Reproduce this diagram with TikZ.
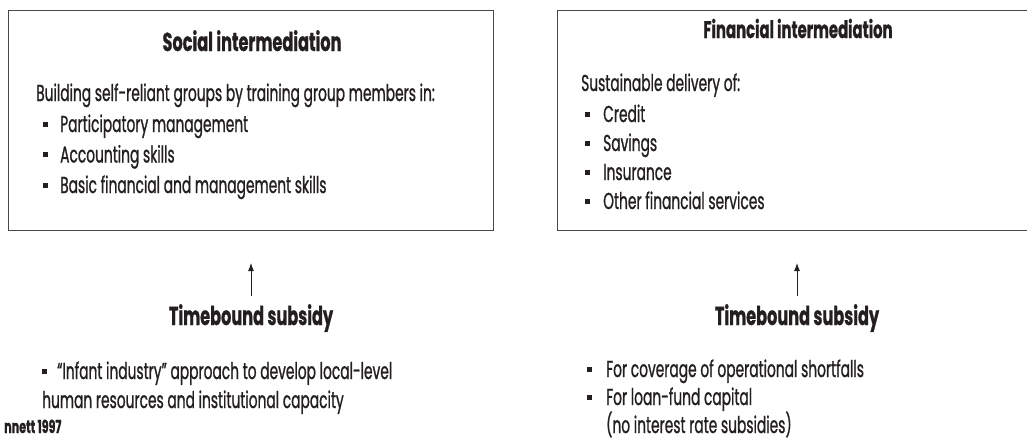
\documentclass[tikz,border=0pt]{standalone}
\usepackage{fontspec}
\setmainfont[FakeStretch=0.6, FakeBold=0.9]{Poppins}
\newfontfamily\headfont[FakeStretch=0.62, FakeBold=0.8]{Poppins}[UprightFont=*-Bold]
\usetikzlibrary{positioning}
\usetikzlibrary{arrows.meta}

\definecolor{ink}{HTML}{231F20}
\newcommand{\sqbul}{\raisebox{0.22em}{\rule{5pt}{5pt}}}

\begin{document}
\begin{tikzpicture}[x=1pt,y=-1pt,
    frame/.style={draw=black!72, line width=0.9pt},
    head/.style={font=\fontsize{26}{30}\selectfont\headfont, text=ink, inner sep=0pt, anchor=base},
    body/.style={font=\fontsize{23}{30}\selectfont, text=ink, inner sep=0pt, anchor=base west},
    up/.style={-{Latex[length=8pt,width=6pt]}, line width=0.9pt, draw=ink}]
    \clip (0,0) rectangle (1027,440);

    % social intermediation
    \draw[frame] (8,10) rectangle (493,230);
    \node[head] (socialhead) at (252,51) {Social intermediation};
    \node[body] (socialintro) at (36,101) {Building self-reliant groups by training group members in:};
    \foreach \t [count=\i from 0] in {Participatory management, Accounting skills, Basic financial and management skills}
        \node[body] (socialitem\i) at (43,132+30.5*\i) {\makebox[17pt][l]{\sqbul}\t};

    % financial intermediation
    \draw[frame] (557,10) rectangle (1040,230);
    \node[head, font=\fontsize{24}{28}\selectfont\headfont] (finhead) at (798,38) {Financial intermediation};
    \node[body] (finintro) at (581,91) {Sustainable delivery of:};
    \foreach \t [count=\i from 0] in {Credit, Savings, Insurance, Other financial services}
        \node[body] (finitem\i) at (585,122+29*\i) {\makebox[18pt][l]{\sqbul}\t};

    % subsidies
    \node[head] (socialsub) at (251,325) {Timebound subsidy};
    \coordinate (socialtip) at (251,263);
    \draw[up, shorten <=8pt] (socialsub) -- (socialtip);
    \node[head] (finsub) at (797,325) {Timebound subsidy};
    \coordinate (fintip) at (797,263);
    \draw[up, shorten <=8pt] (finsub) -- (fintip);

    \node[body] (socialnote1) at (42,379) {\makebox[15pt][l]{\sqbul}“Infant industry” approach to develop local-level};
    \node[body] (socialnote2) at (42,408) {human resources and institutional capacity};
    \node[body, font=\fontsize{18}{22}\selectfont\headfont] (source) at (4,433) {nnett 1997};

    \node[body] (finnote1) at (587,377) {\makebox[19pt][l]{\sqbul}For coverage of operational shortfalls};
    \node[body] (finnote2) at (587,405) {\makebox[19pt][l]{\sqbul}For loan-fund capital};
    \node[body] (finnote3) at (606,433) {(no interest rate subsidies)};
\end{tikzpicture}
\end{document}
